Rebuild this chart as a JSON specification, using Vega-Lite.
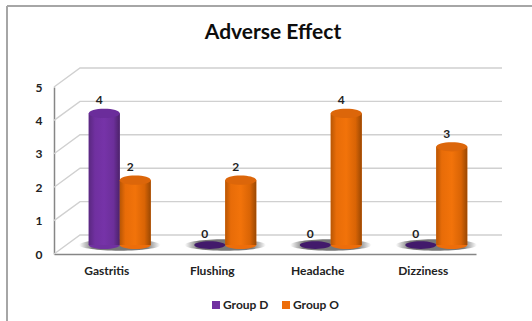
{
  "$schema": "https://vega.github.io/schema/vega-lite/v6.json",
  "width": 422,
  "height": 167,
  "autosize": {"type": "none"},
  "padding": {"left": 54, "top": 87, "right": 56, "bottom": 67},
  "background": "#ffffff",
  "config": {
    "view": {"stroke": null},
    "font": "Lato",
    "axisY": {"tickCount": 5, "labelOverlap": false}
  },
  "title": {
    "text": "Adverse Effect",
    "font": "Lato",
    "fontSize": 21,
    "fontWeight": "bold",
    "color": "#0d0d0d",
    "anchor": "middle",
    "dx": 8,
    "offset": -38
  },
  "data": {
    "values": [
      {"symptom": "Gastritis", "group": "Group D", "value": 4},
      {"symptom": "Gastritis", "group": "Group O", "value": 2},
      {"symptom": "Flushing", "group": "Group D", "value": 0},
      {"symptom": "Flushing", "group": "Group O", "value": 2},
      {"symptom": "Headache", "group": "Group D", "value": 0},
      {"symptom": "Headache", "group": "Group O", "value": 4},
      {"symptom": "Dizziness", "group": "Group D", "value": 0},
      {"symptom": "Dizziness", "group": "Group O", "value": 3}
    ]
  },
  "layer": [
    {
      "data": {"values": [{"tick": 0}, {"tick": 1}, {"tick": 2}, {"tick": 3}, {"tick": 4}, {"tick": 5}]},
      "mark": {
        "type": "point",
        "shape": "M0,0L26,-19L448,-19",
        "size": 4,
        "filled": false,
        "stroke": "#d0d0d0",
        "strokeWidth": 1.4,
        "opacity": 1
      },
      "encoding": {
        "x": {"value": 0},
        "y": {"field": "tick", "type": "quantitative"}
      }
    },
    {
      "mark": {
        "type": "point",
        "shape": "M-1,0A1,0.14,0,1,1,1,0A1,0.14,0,1,1,-1,0Z",
        "size": 6561,
        "filled": true,
        "opacity": 1,
        "xOffset": 13,
        "yOffset": -9,
        "fill": {
          "gradient": "radial",
          "x1": 0.5, "y1": 0.5, "r1": 0.33, "x2": 0.5, "y2": 0.5, "r2": 0.5,
          "stops": [
            {"offset": 0, "color": "#777777"},
            {"offset": 1, "color": "#ffffff"}
          ]
        }
      },
      "transform": [{"filter": "datum.group === 'Group D'"}],
      "encoding": {
        "x": {"field": "symptom", "type": "nominal", "sort": null},
        "y": {"datum": 0, "type": "quantitative"}
      }
    },
    {
      "mark": {
        "type": "point",
        "shape": "M-1,0A1,0.26,0,1,1,1,0A1,0.26,0,1,1,-1,0Z",
        "size": 961,
        "filled": true,
        "opacity": 1,
        "yOffset": -9
      },
      "transform": [{"filter": "datum.value > 0"}],
      "encoding": {
        "x": {"field": "symptom", "type": "nominal", "sort": null},
        "xOffset": {"field": "group", "type": "nominal"},
        "y": {"datum": 0, "type": "quantitative"},
        "color": {"field": "group", "type": "nominal"}
      }
    },
    {
      "mark": {"type": "bar", "yOffset": -7, "y2Offset": -9},
      "transform": [{"filter": "datum.value > 0"}],
      "encoding": {
        "x": {
          "field": "symptom",
          "type": "nominal",
          "sort": null,
          "title": null,
          "scale": {"type": "band", "paddingInner": 0, "paddingOuter": 0},
          "axis": {
            "labelAngle": 0,
            "labelAlign": "center",
            "labelFont": "Lato",
            "labelFontSize": 12,
            "labelFontWeight": "bold",
            "labelColor": "#222222",
            "labelPadding": 16,
            "ticks": false,
            "domainColor": "#868686",
            "domainWidth": 1.5
          }
        },
        "xOffset": {
          "field": "group",
          "type": "nominal",
          "scale": {"range": [34.75, 96.75], "paddingInner": 0, "paddingOuter": 0}
        },
        "y": {
          "field": "value",
          "type": "quantitative",
          "stack": null,
          "title": null,
          "scale": {"domain": [0, 5]},
          "axis": {
            "labelFont": "Lato",
            "labelFontSize": 12,
            "labelFontWeight": "bold",
            "labelColor": "#222222",
            "labelPadding": 12,
            "ticks": false,
            "grid": false,
            "domainColor": "#868686",
            "domainWidth": 1.5
          }
        },
        "y2": {"datum": 0},
        "color": {
          "field": "group",
          "type": "nominal",
          "title": null,
          "scale": {
            "domain": ["Group D", "Group O"],
            "range": ["#7030a0", "#ed6d0a"]
          },
          "legend": {
            "orient": "none",
            "legendX": 156,
            "legendY": 212,
            "direction": "horizontal",
            "symbolType": "square",
            "symbolSize": 64,
            "symbolStrokeWidth": 0,
            "labelFont": "Lato",
            "labelFontSize": 12,
            "labelFontWeight": "bold",
            "labelColor": "#222222",
            "labelOffset": 1,
            "columnPadding": 11
          }
        }
      }
    },
    {
      "transform": [{"filter": "datum.group === 'Group D' && datum.value > 0"}],
      "mark": {
        "type": "bar",
        "yOffset": -7,
        "y2Offset": -9,
        "color": {
          "gradient": "linear", "x1": 0, "y1": 0, "x2": 1, "y2": 0,
          "stops": [
            {"offset": 0, "color": "#5a2880"},
            {"offset": 0.2, "color": "#7030a0"},
            {"offset": 0.5, "color": "#7633a8"},
            {"offset": 0.8, "color": "#6c2f9a"},
            {"offset": 1, "color": "#4c2269"}
          ]
        }
      },
      "encoding": {
        "x": {"field": "symptom", "type": "nominal", "sort": null},
        "xOffset": {"field": "group", "type": "nominal"},
        "y": {"field": "value", "type": "quantitative", "stack": null},
        "y2": {"datum": 0}
      }
    },
    {
      "transform": [{"filter": "datum.group === 'Group O'"}],
      "mark": {
        "type": "bar",
        "yOffset": -7,
        "y2Offset": -9,
        "color": {
          "gradient": "linear", "x1": 0, "y1": 0, "x2": 1, "y2": 0,
          "stops": [
            {"offset": 0, "color": "#b85604"},
            {"offset": 0.18, "color": "#e86c08"},
            {"offset": 0.5, "color": "#f2730a"},
            {"offset": 0.8, "color": "#d96405"},
            {"offset": 1, "color": "#9a4803"}
          ]
        }
      },
      "encoding": {
        "x": {"field": "symptom", "type": "nominal", "sort": null},
        "xOffset": {"field": "group", "type": "nominal"},
        "y": {"field": "value", "type": "quantitative", "stack": null},
        "y2": {"datum": 0}
      }
    },
    {
      "mark": {
        "type": "point",
        "shape": "M-1,0A1,0.3,0,1,1,1,0A1,0.3,0,1,1,-1,0Z",
        "size": 961,
        "filled": true,
        "opacity": 1,
        "yOffset": -7
      },
      "transform": [{"filter": "datum.value > 0"}],
      "encoding": {
        "x": {"field": "symptom", "type": "nominal", "sort": null},
        "xOffset": {"field": "group", "type": "nominal"},
        "y": {"field": "value", "type": "quantitative"},
        "fill": {
          "field": "group",
          "type": "nominal",
          "legend": null,
          "scale": {
            "domain": ["Group D", "Group O"],
            "range": ["#6b2d9b", "#dc660a"]
          }
        }
      }
    },
    {
      "mark": {
        "type": "point",
        "shape": "M-1,0A1,0.25,0,1,1,1,0A1,0.25,0,1,1,-1,0Z",
        "size": 961,
        "filled": true,
        "opacity": 1,
        "fill": "#421a6b",
        "yOffset": -9
      },
      "transform": [{"filter": "datum.value === 0"}],
      "encoding": {
        "x": {"field": "symptom", "type": "nominal", "sort": null},
        "xOffset": {"field": "group", "type": "nominal"},
        "y": {"field": "value", "type": "quantitative"}
      }
    },
    {
      "mark": {
        "type": "text",
        "font": "Lato",
        "fontSize": 12,
        "fontWeight": "bold",
        "color": "#222222",
        "dx": -5,
        "dy": -20
      },
      "encoding": {
        "x": {"field": "symptom", "type": "nominal", "sort": null},
        "xOffset": {"field": "group", "type": "nominal"},
        "y": {"field": "value", "type": "quantitative"},
        "text": {"field": "value", "type": "quantitative"}
      }
    },
    {
      "mark": {"type": "rule", "color": "#a6a6a6", "strokeWidth": 2},
      "encoding": {"x": {"value": -47}, "y": {"value": -81}, "y2": {"value": 234}}
    },
    {
      "mark": {"type": "rule", "color": "#a6a6a6", "strokeWidth": 1.5},
      "encoding": {"x": {"value": -47}, "x2": {"value": 478}, "y": {"value": -81}}
    }
  ]
}
